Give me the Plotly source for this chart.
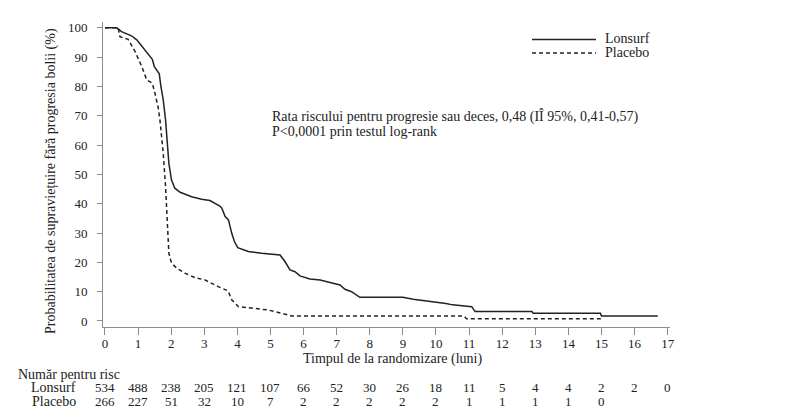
import plotly.graph_objects as go

# Kaplan-Meier curves (months, % progression-free)
lonsurf_t = [0, 0.35, 0.5, 0.8, 0.96, 1.21, 1.43, 1.49, 1.64, 1.69, 1.76, 1.83, 1.89, 1.93, 2.01, 2.11,
             2.27, 2.62, 2.92, 3.17, 3.47, 3.53, 3.63, 3.73, 3.83, 3.91, 4.01, 4.33, 4.73, 5.29, 5.44,
             5.59, 5.74, 5.89, 6.19, 6.5, 6.8, 7.1, 7.25, 7.45, 7.7, 9.0, 9.31, 10.0, 10.3, 10.5,
             11.08, 11.18, 12.9, 12.94, 14.97, 15.0, 16.7]
lonsurf_s = [100, 100, 98.7, 97.3, 95.9, 92.5, 89.3, 86.8, 84.3, 80, 75.4, 68.6, 59.5, 53.8, 48.1, 45.3,
             43.9, 42.4, 41.5, 41.1, 39.2, 38.5, 35.6, 34.5, 29.9, 27.1, 25, 23.7, 23.1, 22.5, 20.2,
             17.4, 16.8, 15.4, 14.3, 14, 13.1, 12.3, 10.8, 10, 8.1, 8.1, 7.4, 6.6, 6, 5.5,
             4.9, 3.2, 3.2, 2.6, 2.6, 1.7, 1.7]

placebo_t = [0, 0.4, 0.45, 0.7, 0.91, 1.11, 1.26, 1.43, 1.51, 1.61, 1.66, 1.76, 1.83, 1.89, 1.93, 2.01,
             2.17, 2.42, 2.72, 3.02, 3.42, 3.72, 3.83, 4.03, 4.43, 4.93, 5.34, 5.64, 10.85, 10.92, 15.0]
placebo_s = [100, 100, 97, 96.1, 91.9, 86.8, 82.3, 81.1, 77.7, 72.6, 68.6, 57.2, 45.8, 34.5, 23.1, 19.7,
             18, 16.3, 14.8, 14, 11.7, 10.3, 7.2, 4.9, 4.3, 3.75, 2.6, 1.7, 1.7, 0.8, 0.8]

risk_times = list(range(0, 18))
lonsurf_risk = [534, 488, 238, 205, 121, 107, 66, 52, 30, 26, 18, 11, 5, 4, 4, 2, 2, 0]
placebo_risk = [266, 227, 51, 32, 10, 7, 2, 2, 2, 2, 2, 1, 1, 1, 1, 0]

FONT = "Liberation Serif"
FS = 14
FS_NUM = 13
INK = "#222222"
AXIS = "#8c8c8c"

fig = go.Figure()
fig.add_trace(go.Scatter(x=lonsurf_t, y=lonsurf_s, mode="lines", name="Lonsurf",
                         line=dict(color=INK, width=1.5)))
fig.add_trace(go.Scatter(x=placebo_t, y=placebo_s, mode="lines", name="Placebo",
                         line=dict(color=INK, width=1.5, dash="4px,3px")))

# plot area: x 103..670, y 22..327 px
L, R, T, B = 103, 670, 22, 327
W, H = 800, 419

def py(p):
    return (B - p) / (B - T)

def px(p):
    return (p - L) / (R - L)

def txt(x, y, text, xanchor="left", xref="paper", angle=0, size=FS):
    return dict(x=x, y=y, xref=xref, yref="paper", text=text, showarrow=False,
                xanchor=xanchor, yanchor="middle", textangle=angle,
                font=dict(family=FONT, size=size, color=INK))

annotations = []
for t, n in zip(risk_times, lonsurf_risk):
    annotations.append(txt(t, py(387), str(n), "center", "x", size=FS_NUM))
for t, n in zip(risk_times, placebo_risk):
    annotations.append(txt(t, py(401.5), str(n), "center", "x", size=FS_NUM))
annotations += [
    txt(px(16), py(374), "Număr pentru risc"),
    txt(px(78), py(387), "Lonsurf", "right"),
    txt(px(78), py(401.5), "Placebo", "right"),
    txt(px(270), py(116), "Rata riscului pentru progresie sau deces, 0,48 (IÎ 95%, 0,41-0,57)"),
    txt(px(270), py(131), "P<0,0001 prin testul log-rank"),
    # legend
    txt(px(603), py(38.5), "Lonsurf"),
    txt(px(603), py(52.5), "Placebo"),
    # axis titles
    txt(px(392), py(359), "Timpul de la randomizare (luni)", "center"),
    txt(px(51), py(181), "Probabilitatea de supraviețuire fără progresia bolii (%)", "center", angle=-90),
]

shapes = [
    dict(type="line", xref="paper", yref="paper", x0=px(532), x1=px(596), y0=py(39.5), y1=py(39.5),
         line=dict(color=INK, width=1.5)),
    dict(type="line", xref="paper", yref="paper", x0=px(532), x1=px(596), y0=py(53), y1=py(53),
         line=dict(color=INK, width=1.5, dash="4px,3px")),
]

fig.update_layout(
    width=W, height=H,
    margin=dict(l=L, r=W - R, t=T, b=H - B, autoexpand=False),
    paper_bgcolor="white", plot_bgcolor="white",
    font=dict(family=FONT, size=FS, color=INK),
    showlegend=False,
    annotations=annotations,
    shapes=shapes,
    xaxis=dict(range=[-0.06, 17.07], tickmode="array", tickvals=risk_times,
               showline=True, linecolor=AXIS, linewidth=1, ticks="outside", tickcolor=AXIS,
               ticklen=7, showgrid=False, zeroline=False, ticklabelstandoff=-3,
               tickfont=dict(family=FONT, size=FS_NUM, color=INK)),
    yaxis=dict(range=[-2.05, 102], tickmode="array", tickvals=list(range(0, 101, 10)),
               showline=True, linecolor=AXIS, linewidth=1, ticks="outside", tickcolor=AXIS,
               ticklen=5, showgrid=False, zeroline=False, ticklabelstandoff=7,
               tickfont=dict(family=FONT, size=FS_NUM, color=INK)),
)

fig.write_html("out.html")
